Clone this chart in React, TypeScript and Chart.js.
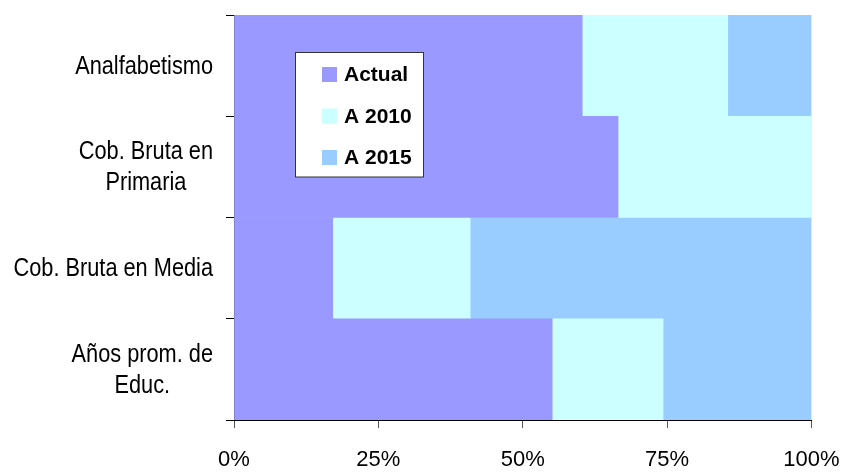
import React, { useEffect, useRef } from "react";
import { Chart, registerables } from "chart.js";

Chart.register(...registerables);

const categories: (string | string[])[] = [
  "Analfabetismo",
  ["Cob. Bruta en", "Primaria"],
  "Cob. Bruta en Media",
  ["Años prom. de", "Educ."],
];
const seriesNames = ["Actual", "A 2010", "A 2015"];
const actual = [60.3, 66.5, 17.1, 55.1];
const a2010 = [25.2, 33.5, 23.8, 19.2];
const a2015 = [14.5, 0, 59.1, 25.7];
const xTickValues = [0, 25, 50, 75, 100];

const colors = ["#9999FF", "#CCFFFF", "#99CCFF"];
const FONT = '"Liberation Sans", Arial, sans-serif';

const yLabelPlugin = {
  id: "yLabels",
  afterDraw(chart: any) {
    const ctx = chart.ctx;
    const yScale = chart.scales.y;
    const sx = 0.87;
    const rightX = 213;
    const lineH = 31;
    ctx.save();
    ctx.font = `25px ${FONT}`;
    ctx.fillStyle = "#000";
    ctx.textAlign = "center";
    ctx.textBaseline = "middle";
    categories.forEach((lab, i) => {
      const lines = Array.isArray(lab) ? lab : [lab];
      const widest = Math.max(...lines.map((l) => ctx.measureText(l).width)) * sx;
      const cx = rightX - widest / 2;
      const cy = yScale.getPixelForValue(i);
      lines.forEach((line, j) => {
        const ly = cy + (j - (lines.length - 1) / 2) * lineH + 1;
        ctx.save();
        ctx.translate(cx, ly);
        ctx.scale(sx, 1);
        ctx.fillText(line, 0, 0);
        ctx.restore();
      });
    });
    ctx.restore();
  },
};

const legendPlugin = {
  id: "boxLegend",
  afterDraw(chart: any) {
    const ctx = chart.ctx;
    const bx = 295.5, by = 52.5, bw = 128, bh = 124.5;
    ctx.save();
    ctx.fillStyle = "#FFFFFF";
    ctx.fillRect(bx, by, bw, bh);
    ctx.strokeStyle = "#333333";
    ctx.lineWidth = 1;
    ctx.strokeRect(bx, by, bw, bh);
    ctx.font = `bold 21px ${FONT}`;
    ctx.textAlign = "left";
    ctx.textBaseline = "middle";
    chart.data.datasets.forEach((ds: any, i: number) => {
      const cy = 74.5 + i * 41.5;
      ctx.fillStyle = ds.backgroundColor;
      ctx.fillRect(322, cy - 7.5, 15, 15);
      ctx.fillStyle = "#000";
      ctx.fillText(ds.label, 344, cy + 1);
    });
    ctx.restore();
  },
};

export default function App() {
  const ref = useRef<HTMLCanvasElement>(null);
  useEffect(() => {
    if (!ref.current) return;
    const chart = new Chart(ref.current, {
      type: "bar",
      data: {
        labels: categories.map((c) => (Array.isArray(c) ? c.join(" ") : c)),
        datasets: [actual, a2010, a2015].map((d, i) => ({
          label: seriesNames[i],
          data: d,
          backgroundColor: colors[i],
          borderWidth: 0,
          barPercentage: 1,
          categoryPercentage: 1,
        })),
      },
      options: {
        indexAxis: "y",
        animation: false,
        responsive: false,
        layout: { padding: { top: 15, right: 31.5, left: 0, bottom: 0 } },
        plugins: {
          legend: { display: false },
          tooltip: { enabled: false },
        },
        scales: {
          x: {
            stacked: true,
            min: 0,
            max: 100,
            afterBuildTicks: (s: any) => {
              s.ticks = xTickValues.map((v) => ({ value: v }));
            },
            afterFit: (s: any) => {
              s.height = 52;
              s.paddingLeft = 0;
              s.paddingRight = 0;
            },
            grid: {
              drawOnChartArea: false,
              drawTicks: true,
              tickLength: 8,
              color: "#555555",
            },
            border: { color: "#000000", width: 1 },
            ticks: {
              padding: 19,
              color: "#000",
              font: { family: FONT, size: 22 },
              callback: (v: any) => `${v}%`,
            },
          },
          y: {
            stacked: true,
            afterFit: (s: any) => {
              s.width = 234;
              s.paddingTop = 0;
              s.paddingBottom = 0;
            },
            grid: {
              drawOnChartArea: false,
              drawTicks: true,
              tickLength: 8,
              color: "#000000",
              offset: true,
            },
            border: { color: "#000000", width: 1 },
            ticks: { display: false },
          },
        },
      },
      plugins: [yLabelPlugin, legendPlugin],
    });
    return () => chart.destroy();
  }, []);
  return (
    <div style={{ position: "absolute", left: 0, top: 0, width: 843, height: 472 }}>
      <canvas ref={ref} width={843} height={472} />
    </div>
  );
}
